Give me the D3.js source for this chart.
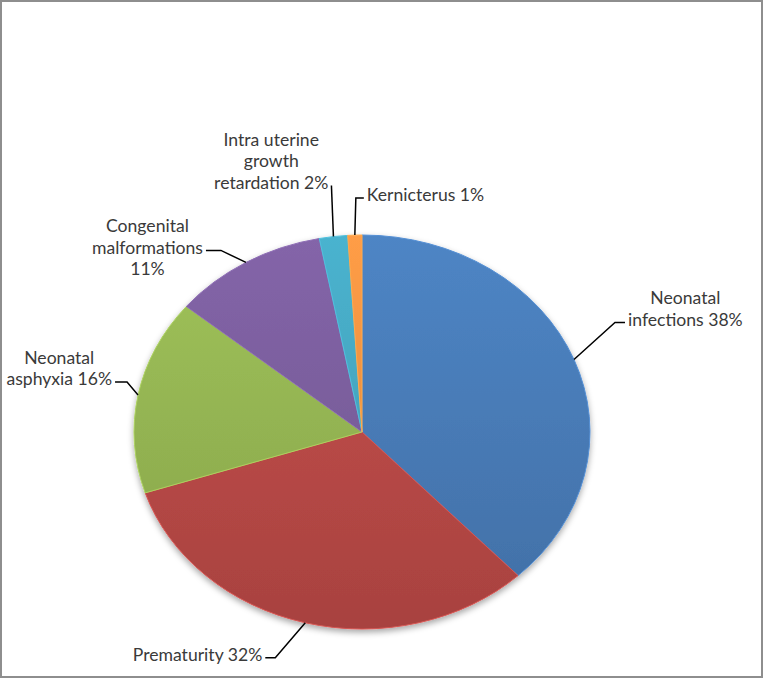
<!DOCTYPE html>
<html>
<head>
<meta charset="utf-8">
<script src="https://cdn.jsdelivr.net/npm/d3@7"></script>
<style>
  body { margin: 0; background: #fff; }
  svg { display: block; }
  .lbl { font-family: Lato, "Open Sans", sans-serif; font-size: 17.6px; fill: #3a3a3a; }
</style>
</head>
<body>
<div id="chart"></div>
<script>
// data
const causes = ["Neonatal infections", "Prematurity", "Neonatal asphyxia",
                "Congenital malformations", "Intra uterine growth retardation", "Kernicterus"];
const shares = [38, 32, 16, 11, 2, 1];
const labelLines = [
    ["Neonatal", "infections 38%"],
    ["Prematurity 32%"],
    ["Neonatal", "asphyxia 16%"],
    ["Congenital", "malformations", "11%"],
    ["Intra uterine", "growth", "retardation 2%"],
    ["Kernicterus 1%"]
];
const colors = ["#4a7ebb", "#be4b48", "#98b954", "#7d60a0", "#46aac4", "#f59542"];

// label layout: elbow offset from the slice anchor, tail length, which text line sits at the elbow
const leaders = [
    { dx: 41,  dy: -37, tail: 10,  side: "right", line: 1 },
    { dx: -30, dy: 35,  tail: -10, side: "left",  line: 0 },
    { dx: -11, dy: -13, tail: -12, side: "left",  line: 1 },
    { dx: -25, dy: -12, tail: -15, side: "left",  line: 1 },
    { dx: -2,  dy: -51, tail: 0,   side: "left",  line: 2 },
    { dx: 1,   dy: -37, tail: 8,   side: "right", line: 0 }
];

const W = 763, H = 678;
const cx = 362, cy = 432, rx = 228, ry = 197;
const lineGap = 21.5;

const svg = d3.select("#chart").append("svg")
    .attr("width", W)
    .attr("height", H);

const defs = svg.append("defs");

const shadow = defs.append("filter")
    .attr("id", "shadow")
    .attr("x", "-10%").attr("y", "-10%")
    .attr("width", "120%").attr("height", "125%");
shadow.append("feDropShadow")
    .attr("dx", 0).attr("dy", 3)
    .attr("stdDeviation", 3)
    .attr("flood-color", "#000")
    .attr("flood-opacity", 0.35);

colors.forEach((c, i) => {
    const grad = defs.append("linearGradient")
        .attr("id", "grad" + i)
        .attr("gradientUnits", "userSpaceOnUse")
        .attr("x1", 0).attr("y1", -ry)
        .attr("x2", 0).attr("y2", ry);
    grad.append("stop").attr("offset", "0%").attr("stop-color", d3.color(c).brighter(0.15));
    grad.append("stop").attr("offset", "100%").attr("stop-color", d3.color(c).darker(0.35));
});

const pie = d3.pie().sort(null).value(d => d);
const arcs = pie(shares);
const arc = d3.arc().innerRadius(0).outerRadius(ry);

const pieG = svg.append("g")
    .attr("filter", "url(#shadow)")
    .append("g")
    .attr("transform", `translate(${cx},${cy}) scale(${rx / ry},1)`);

pieG.selectAll("path")
    .data(arcs)
    .join("path")
    .attr("d", arc)
    .attr("fill", (d, i) => `url(#grad${i})`)
    .attr("stroke", (d, i) => d3.color(colors[i]).brighter(0.35))
    .attr("stroke-width", 1)
    .attr("stroke-linejoin", "round")
    .attr("vector-effect", "non-scaling-stroke");

// labels with leader lines
arcs.forEach((d, i) => {
    const a = (d.startAngle + d.endAngle) / 2;
    const ax = cx + rx * Math.sin(a);
    const ay = cy - ry * Math.cos(a);
    const L = leaders[i];
    const ex = ax + L.dx, ey = ay + L.dy;
    const tx = ex + L.tail;

    svg.append("path")
        .attr("d", `M${ax},${ay}L${ex},${ey}L${tx},${ey}`)
        .attr("fill", "none")
        .attr("stroke", "#000")
        .attr("stroke-width", 1.5);

    const t = svg.append("text")
        .attr("class", "lbl")
        .attr("text-anchor", "middle");
    labelLines[i].forEach((s, k) => {
        t.append("tspan")
            .attr("x", 0)
            .attr("y", (k - L.line) * lineGap)
            .attr("dy", "0.35em")
            .text(s);
    });
    const w = d3.max(t.selectAll("tspan").nodes(), n => n.getComputedTextLength());
    const bx = L.side === "right" ? tx + 3 + w / 2 : tx - 3 - w / 2;
    t.attr("transform", `translate(${bx},${ey - 3})`);
});

// frame
svg.append("rect")
    .attr("x", 1).attr("y", 1)
    .attr("width", W - 2).attr("height", H - 2)
    .attr("fill", "none")
    .attr("stroke", "#8e8e8e")
    .attr("stroke-width", 2);
</script>
</body>
</html>
